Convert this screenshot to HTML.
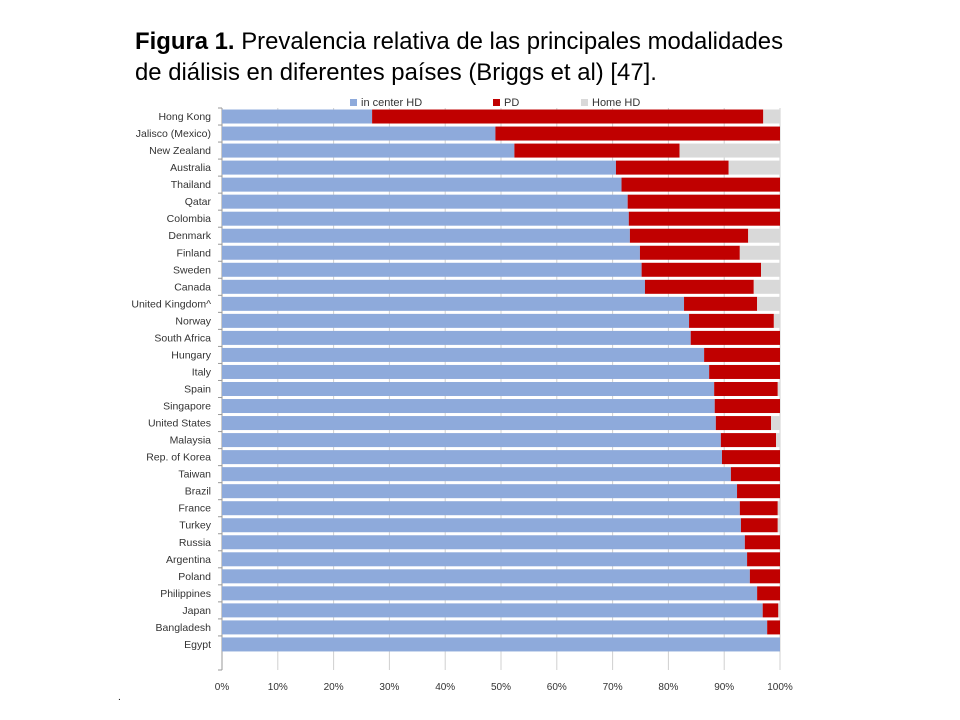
<!DOCTYPE html>
<html><head><meta charset="utf-8"><style>
body{margin:0;background:#fff;width:960px;height:720px;overflow:hidden;font-family:"Liberation Sans",Arial,sans-serif}
.title{position:absolute;left:135px;top:26px;font-size:23.9px;line-height:31px;color:#000;white-space:nowrap}
</style></head><body>
<div class="title"><b>Figura 1.</b> Prevalencia relativa de las principales modalidades<br>de diálisis en diferentes países (Briggs et al) [47].</div>
<svg id="chart" width="960" height="720" style="position:absolute;left:0;top:0"></svg>
<script>
const countries=["Hong Kong","Jalisco (Mexico)","New Zealand","Australia","Thailand","Qatar","Colombia","Denmark","Finland","Sweden","Canada","United Kingdom^","Norway","South Africa","Hungary","Italy","Spain","Singapore","United States","Malaysia","Rep. of Korea","Taiwan","Brazil","France","Turkey","Russia","Argentina","Poland","Philippines","Japan","Bangladesh","Egypt"];
const inCenterHD=[26.9,49,52.4,70.6,71.6,72.7,72.9,73.1,74.9,75.2,75.8,82.8,83.7,84,86.4,87.3,88.2,88.3,88.5,89.4,89.6,91.2,92.3,92.8,93,93.7,94.1,94.6,95.9,96.9,97.7,100];
const pd=[70.1,51,29.6,20.2,28.4,27.3,27.1,21.2,17.9,21.4,19.5,13.1,15.2,16,13.6,12.7,11.4,11.7,9.9,9.9,10.4,8.8,7.7,6.8,6.6,6.3,5.9,5.4,4.1,2.8,2.3,0];
const homeHD=inCenterHD.map((v,i)=>Math.max(0,100-v-pd[i]));
const xTicks=["0%","10%","20%","30%","40%","50%","60%","70%","80%","90%","100%"];
const NS="http://www.w3.org/2000/svg",svg=document.getElementById('chart');
const X0=222,X1=780,Y0=108,SLOT=17.03;
const x=v=>X0+(X1-X0)*v/100;
function el(t,a,p){const e=document.createElementNS(NS,t);for(const k in a)e.setAttribute(k,a[k]);(p||svg).appendChild(e);return e;}
const grid=el('g',{});
xTicks.forEach((t,i)=>{const g=el('line',{x1:x(i*10),x2:x(i*10),y1:Y0,y2:670,stroke:'#d0d0d0','stroke-width':1},grid);
const tx=el('text',{x:x(i*10),y:690,'font-size':10,'text-anchor':'middle',fill:'#333'});tx.textContent=t;
});
const ax=el('line',{x1:X0,x2:X0,y1:Y0,y2:670,stroke:'#999'});
const cols=['#8eaadb','#c00000','#d9d9d9'];
countries.forEach((c,i)=>{const yc=Y0+SLOT*(i+0.5);
el('line',{x1:X0-4,x2:X0,y1:Y0+SLOT*i,y2:Y0+SLOT*i,stroke:'#999'});
const lb=el('text',{x:211,y:yc+3.5,'font-size':10.5,'text-anchor':'end',fill:'#333'});lb.textContent=c;

let s=0;[inCenterHD[i],pd[i],homeHD[i]].forEach((v,k)=>{if(v<=0)return;
const r=el('rect',{x:x(s),y:yc-7,width:x(s+v)-x(s),height:14,fill:cols[k]});
s+=v;});});
el('line',{x1:X0-4,x2:X0,y1:670,y2:670,stroke:'#999'});
const legs=[["in center HD",350],["PD",493],["Home HD",581]];
legs.forEach((l,k)=>{const g=el('g',{});
el('rect',{x:l[1],y:99,width:7,height:7,fill:cols[k]},g);
const t=el('text',{x:l[1]+11,y:106,'font-size':11,fill:'#333'},g);t.textContent=l[0];});
const d=el('text',{x:118,y:700,'font-size':10});d.textContent='.';
</script>
</body></html>
